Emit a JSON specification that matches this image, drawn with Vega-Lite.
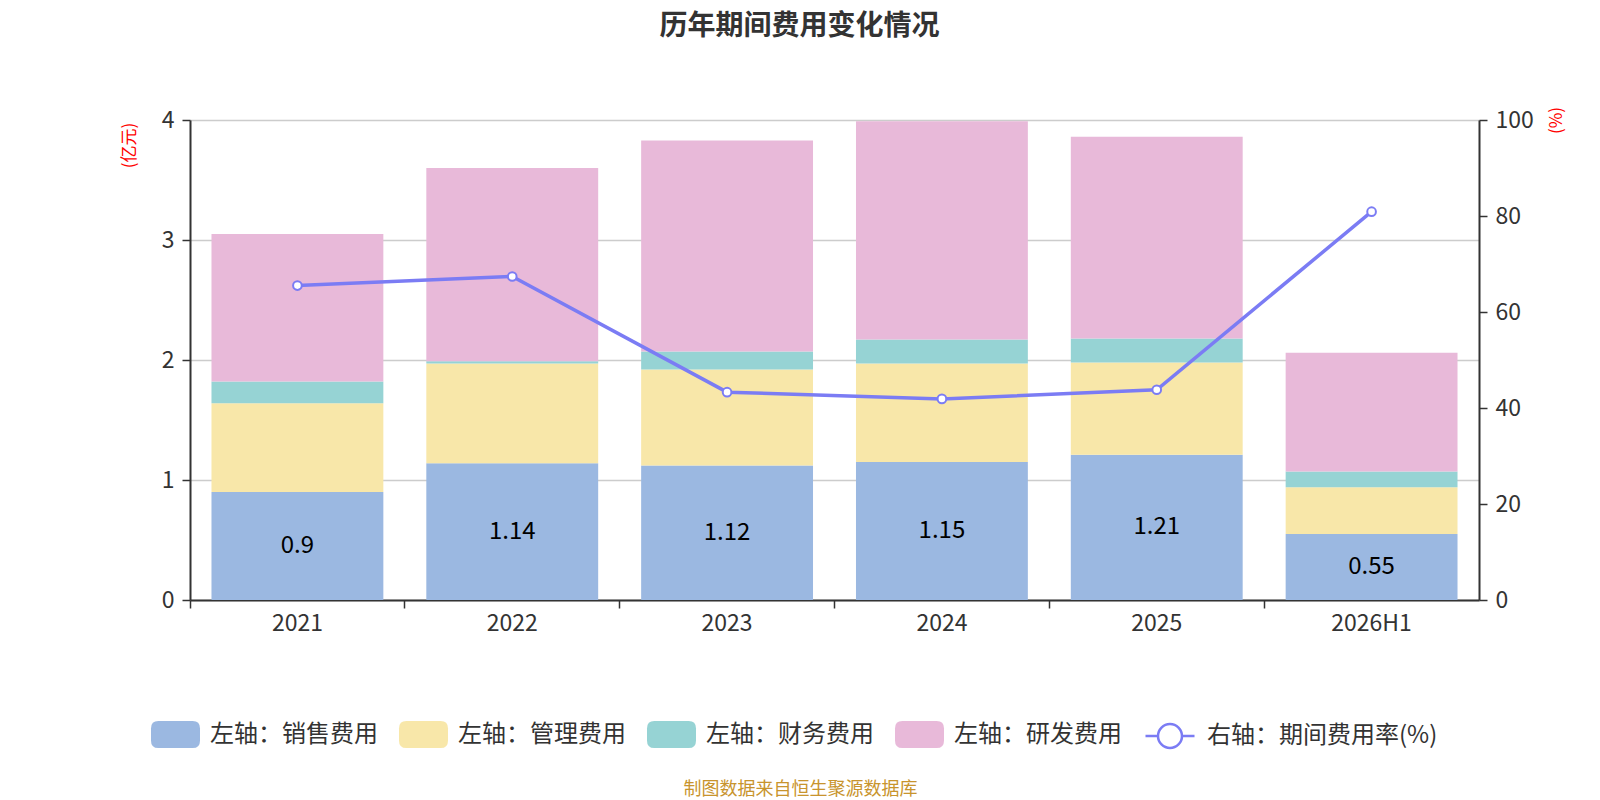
{
  "$schema": "https://vega.github.io/schema/vega-lite/v6.json",
  "autosize": {"type": "none"},
  "width": 1289,
  "height": 480,
  "padding": {"left": 190, "top": 120, "right": 121, "bottom": 200},
  "background": "white",
  "title": {
    "text": "历年期间费用变化情况",
    "anchor": "middle",
    "frame": "group",
    "dx": -35,
    "offset": 65,
    "fontSize": 28,
    "fontWeight": "bold",
    "color": "#333333",
    "font": "Noto Sans CJK SC"
  },
  "datasets": {
    "bars": [
      {"year": "2021", "type": "左轴：销售费用", "ord": 1, "value": 0.9},
      {"year": "2021", "type": "左轴：管理费用", "ord": 2, "value": 0.74},
      {"year": "2021", "type": "左轴：财务费用", "ord": 3, "value": 0.18},
      {"year": "2021", "type": "左轴：研发费用", "ord": 4, "value": 1.23},
      {"year": "2022", "type": "左轴：销售费用", "ord": 1, "value": 1.14},
      {"year": "2022", "type": "左轴：管理费用", "ord": 2, "value": 0.83},
      {"year": "2022", "type": "左轴：财务费用", "ord": 3, "value": 0.02},
      {"year": "2022", "type": "左轴：研发费用", "ord": 4, "value": 1.61},
      {"year": "2023", "type": "左轴：销售费用", "ord": 1, "value": 1.12},
      {"year": "2023", "type": "左轴：管理费用", "ord": 2, "value": 0.8},
      {"year": "2023", "type": "左轴：财务费用", "ord": 3, "value": 0.15},
      {"year": "2023", "type": "左轴：研发费用", "ord": 4, "value": 1.76},
      {"year": "2024", "type": "左轴：销售费用", "ord": 1, "value": 1.15},
      {"year": "2024", "type": "左轴：管理费用", "ord": 2, "value": 0.82},
      {"year": "2024", "type": "左轴：财务费用", "ord": 3, "value": 0.2},
      {"year": "2024", "type": "左轴：研发费用", "ord": 4, "value": 1.82},
      {"year": "2025", "type": "左轴：销售费用", "ord": 1, "value": 1.21},
      {"year": "2025", "type": "左轴：管理费用", "ord": 2, "value": 0.77},
      {"year": "2025", "type": "左轴：财务费用", "ord": 3, "value": 0.2},
      {"year": "2025", "type": "左轴：研发费用", "ord": 4, "value": 1.68},
      {"year": "2026H1", "type": "左轴：销售费用", "ord": 1, "value": 0.55},
      {"year": "2026H1", "type": "左轴：管理费用", "ord": 2, "value": 0.39},
      {"year": "2026H1", "type": "左轴：财务费用", "ord": 3, "value": 0.13},
      {"year": "2026H1", "type": "左轴：研发费用", "ord": 4, "value": 0.99}
    ],
    "rate": [
      {"year": "2021", "rate": 65.5},
      {"year": "2022", "rate": 67.4},
      {"year": "2023", "rate": 43.3},
      {"year": "2024", "rate": 41.9},
      {"year": "2025", "rate": 43.8},
      {"year": "2026H1", "rate": 80.9}
    ]
  },
  "layer": [
    {
      "data": {"name": "bars"},
      "mark": {"type": "bar"},
      "encoding": {
        "x": {
          "field": "year",
          "type": "nominal",
          "sort": null,
          "scale": {"paddingInner": 0.2, "paddingOuter": 0.1},
          "axis": {
            "bandPosition": -0.125,
            "labelAngle": 0,
            "labelFontSize": 23,
            "labelColor": "#333333",
            "labelPadding": 4,
            "domainColor": "#333333",
            "domainWidth": 2,
            "tickColor": "#333333",
            "tickSize": 8,
            "tickWidth": 1.5,
            "grid": false,
            "title": "制图数据来自恒生聚源数据库",
            "titleX": 610,
            "titleY": 189,
            "titleAlign": "center",
            "titleBaseline": "middle",
            "titleAngle": 0,
            "titleFontSize": 18,
            "titleFontWeight": "normal",
            "titleColor": "#c8942d"
          }
        },
        "y": {
          "field": "value",
          "type": "quantitative",
          "stack": "zero",
          "scale": {"domain": [0, 4], "nice": false},
          "axis": {
            "orient": "left",
            "values": [0, 1, 2, 3, 4],
            "labelFontSize": 23,
            "labelColor": "#333333",
            "labelPadding": 8,
            "domainColor": "#333333",
            "domainWidth": 2,
            "tickColor": "#333333",
            "tickSize": 8,
            "tickWidth": 1.5,
            "grid": true,
            "gridColor": "#cccccc",
            "gridWidth": 1.5,
            "title": "(亿元)",
            "titleX": -61,
            "titleY": 25,
            "titleAngle": 270,
            "titleAlign": "center",
            "titleBaseline": "middle",
            "titleFontSize": 17,
            "titleFontWeight": "normal",
            "titleColor": "#ff0000"
          }
        },
        "order": {"field": "ord"},
        "color": {
          "field": "type",
          "type": "nominal",
          "scale": {
            "domain": ["左轴：销售费用", "左轴：管理费用", "左轴：财务费用", "左轴：研发费用"],
            "range": ["#9bb8e1", "#f8e7a9", "#96d3d4", "#e8b9d9"]
          },
          "legend": {
            "orient": "none",
            "legendX": -39,
            "legendY": 590,
            "direction": "horizontal",
            "columns": 4,
            "columnPadding": 21,
            "title": null,
            "padding": 0,
            "symbolType": "M-0.7,-0.55L0.7,-0.55Q1,-0.55 1,-0.25L1,0.25Q1,0.55 0.7,0.55L-0.7,0.55Q-1,0.55 -1,0.25L-1,-0.25Q-1,-0.55 -0.7,-0.55Z",
            "symbolSize": 2401,
            "symbolStrokeWidth": 0,
            "symbolOpacity": 1,
            "labelOffset": 10,
            "labelFontSize": 24,
            "labelColor": "#333333",
            "labelFont": "Noto Sans CJK SC",
            "labelLimit": 400
          }
        }
      }
    },
    {
      "data": {"name": "bars"},
      "transform": [{"filter": {"field": "type", "equal": "左轴：销售费用"}}],
      "mark": {"type": "text", "fontSize": 24, "color": "#000000", "baseline": "middle", "font": "Noto Sans CJK SC"},
      "encoding": {
        "x": {"field": "year", "type": "nominal", "sort": null},
        "y": {
          "field": "value",
          "type": "quantitative",
          "scale": {"domain": [0, 8], "nice": false},
          "axis": null
        },
        "text": {"field": "value", "type": "quantitative"}
      }
    },
    {
      "data": {"name": "rate"},
      "mark": {
        "type": "line",
        "strokeWidth": 3.5,
        "point": {"filled": false, "fill": "white", "size": 75, "strokeWidth": 2}
      },
      "encoding": {
        "x": {"field": "year", "type": "nominal", "sort": null},
        "y": {
          "field": "rate",
          "type": "quantitative",
          "scale": {"domain": [0, 100], "nice": false},
          "axis": {
            "orient": "right",
            "values": [0, 20, 40, 60, 80, 100],
            "labelFontSize": 23,
            "labelColor": "#333333",
            "labelPadding": 8,
            "domainColor": "#333333",
            "domainWidth": 2,
            "tickColor": "#333333",
            "tickSize": 8,
            "tickWidth": 1.5,
            "grid": false,
            "title": "(%)",
            "titleX": 77,
            "titleY": 0,
            "titleAngle": 270,
            "titleAlign": "center",
            "titleBaseline": "middle",
            "titleFontSize": 17,
            "titleFontWeight": "normal",
            "titleColor": "#ff0000"
          }
        },
        "stroke": {
          "datum": "右轴：期间费用率(%)",
          "type": "nominal",
          "scale": {"range": ["#7b7cf4"]},
          "legend": {
            "orient": "none",
            "legendX": 954,
            "legendY": 590,
            "direction": "horizontal",
            "title": null,
            "padding": 0,
            "symbolType": "M-1,0L-0.49,0M0.49,0L1,0M-0.49,0A0.49,0.49 0 1,1 0.49,0A0.49,0.49 0 1,1 -0.49,0Z",
            "symbolSize": 2401,
            "symbolStrokeWidth": 2.5,
            "symbolFillColor": "white",
            "labelOffset": 11,
            "labelFontSize": 24,
            "labelColor": "#333333",
            "labelFont": "Noto Sans CJK SC",
            "labelLimit": 400
          }
        }
      }
    }
  ],
  "resolve": {"scale": {"y": "independent"}, "axis": {"y": "independent"}},
  "config": {
    "font": "Noto Sans CJK SC",
    "view": {"stroke": null},
    "axis": {"labelFont": "Noto Sans CJK SC", "titleFont": "Noto Sans CJK SC"}
  }
}
